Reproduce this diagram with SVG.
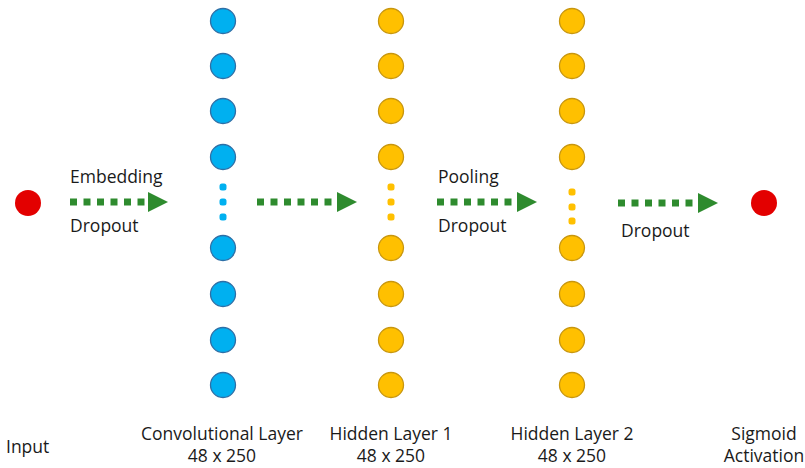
<svg xmlns="http://www.w3.org/2000/svg" width="805" height="468" viewBox="0 0 805 468">
<style>
text{font-family:"Open Sans","Liberation Sans",sans-serif;font-size:17.5px;fill:#1a1a1a}
.c{text-anchor:middle}
.blue{fill:#00B0F0;stroke:#2E6FA6;stroke-width:1.3}
.orange{fill:#FFC000;stroke:#C8960E;stroke-width:1.3}
.bdot{fill:#00B0F0}
.odot{fill:#FFC000}
.red{fill:#E30000}
.conn{stroke:#2E8B2E;stroke-width:7;stroke-dasharray:7 6.5;fill:none;marker-end:url(#head)}
</style>
<defs>
<marker id="head" markerUnits="userSpaceOnUse" markerWidth="20" markerHeight="20" viewBox="0 0 20 20" refX="0" refY="10" orient="auto">
<path d="M0 0L20 10L0 20z" fill="#2E8B2E"/>
</marker>
</defs>
<rect width="805" height="468" fill="#fff"/>
<g id="input">
<circle class="red" cx="28" cy="203" r="13"/>
<text x="6" y="453">Input</text>
</g>
<g id="conv">
<circle class="blue" cx="223" cy="21" r="12.5"/>
<circle class="blue" cx="223" cy="66" r="12.5"/>
<circle class="blue" cx="223" cy="111" r="12.5"/>
<circle class="blue" cx="223" cy="157" r="12.5"/>
<rect class="bdot" x="219.5" y="183.5" width="7" height="7" rx="2.5"/>
<rect class="bdot" x="219.5" y="198.5" width="7" height="7" rx="2.5"/>
<rect class="bdot" x="219.5" y="213.5" width="7" height="7" rx="2.5"/>
<circle class="blue" cx="223" cy="248" r="12.5"/>
<circle class="blue" cx="223" cy="294" r="12.5"/>
<circle class="blue" cx="223" cy="340" r="12.5"/>
<circle class="blue" cx="223" cy="385" r="12.5"/>
<text class="c" x="222" y="440">Convolutional Layer</text>
<text class="c" x="222" y="462">48 x 250</text>
</g>
<g id="hidden1">
<circle class="orange" cx="391" cy="21" r="12.5"/>
<circle class="orange" cx="391" cy="66" r="12.5"/>
<circle class="orange" cx="391" cy="111" r="12.5"/>
<circle class="orange" cx="391" cy="157" r="12.5"/>
<rect class="odot" x="387.5" y="183.5" width="7" height="7" rx="2.5"/>
<rect class="odot" x="387.5" y="198.5" width="7" height="7" rx="2.5"/>
<rect class="odot" x="387.5" y="213.5" width="7" height="7" rx="2.5"/>
<circle class="orange" cx="391" cy="248" r="12.5"/>
<circle class="orange" cx="391" cy="294" r="12.5"/>
<circle class="orange" cx="391" cy="340" r="12.5"/>
<circle class="orange" cx="391" cy="385" r="12.5"/>
<text class="c" x="391" y="440">Hidden Layer 1</text>
<text class="c" x="391" y="462">48 x 250</text>
</g>
<g id="hidden2">
<circle class="orange" cx="572" cy="21" r="12.5"/>
<circle class="orange" cx="572" cy="66" r="12.5"/>
<circle class="orange" cx="572" cy="111" r="12.5"/>
<circle class="orange" cx="572" cy="157" r="12.5"/>
<rect class="odot" x="568.5" y="188.5" width="7" height="7" rx="2.5"/>
<rect class="odot" x="568.5" y="203.5" width="7" height="7" rx="2.5"/>
<rect class="odot" x="568.5" y="217.5" width="7" height="7" rx="2.5"/>
<circle class="orange" cx="572" cy="248" r="12.5"/>
<circle class="orange" cx="572" cy="294" r="12.5"/>
<circle class="orange" cx="572" cy="340" r="12.5"/>
<circle class="orange" cx="572" cy="385" r="12.5"/>
<text class="c" x="572" y="440">Hidden Layer 2</text>
<text class="c" x="572" y="462">48 x 250</text>
</g>
<g id="output">
<circle class="red" cx="764" cy="203" r="13"/>
<text class="c" x="764" y="440">Sigmoid</text>
<text class="c" x="764" y="462">Activation</text>
</g>
<g id="connectors">
<path class="conn" d="M70 202H148"/>
<text x="70" y="183">Embedding</text>
<text x="70" y="232">Dropout</text>
<path class="conn" d="M257 202H337"/>
<path class="conn" d="M437 202H517"/>
<text x="438" y="183">Pooling</text>
<text x="438" y="232">Dropout</text>
<path class="conn" d="M618 203H698"/>
<text x="621" y="237">Dropout</text>
</g>
</svg>
